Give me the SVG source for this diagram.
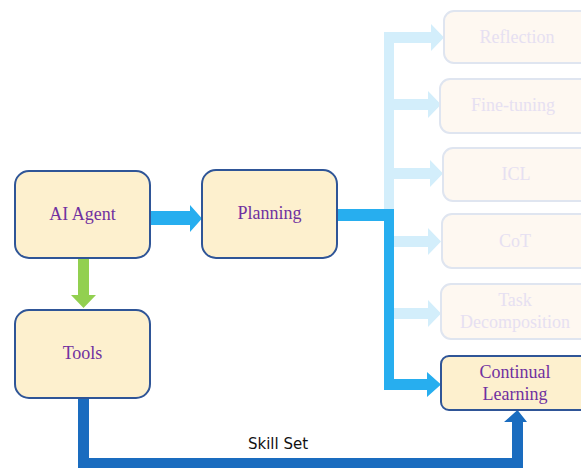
<svg xmlns="http://www.w3.org/2000/svg" width="581" height="468" viewBox="0 0 581 468">
<style>
.box{fill:#FDF0CE;stroke:#2F5597;stroke-width:2}
.fbox{fill:#FEF8F1;stroke:#DFE5F0;stroke-width:2}
.t{font-family:"Liberation Serif",serif;font-size:18px;fill:#7030A0;text-anchor:middle}
.ft{font-family:"Liberation Serif",serif;font-size:18px;fill:#E6E0F2;text-anchor:middle}
.light{fill:#D3EEFB}
.strong{fill:#27AEEF}
.dark{fill:#1A6CBF}
.green{fill:#92D050}
.lbl{font-family:"DejaVu Sans",sans-serif;font-size:15px;fill:#111;text-anchor:middle}
</style>
<rect width="581" height="468" fill="#fff"/>
<g id="connectors">
  <!-- light blue trunk and branches -->
  <rect class="light" x="384" y="32" width="10" height="287"/>
  <polygon class="light" points="394,32 431,32 431,24 444,37.5 431,51 431,43 394,43"/>
  <polygon class="light" points="394,99 428,99 428,91 441,104.5 428,118 428,110 394,110"/>
  <polygon class="light" points="394,168 430,168 430,160 443,173.5 430,187 430,179 394,179"/>
  <polygon class="light" points="394,236 428,236 428,228 441,241.5 428,255 428,247 394,247"/>
  <polygon class="light" points="394,308 428,308 428,300 441,313.5 428,327 428,319 394,319"/>
  <!-- strong blue planning -> continual learning -->
  <polygon class="strong" points="337,209 394,209 394,379 427,379 427,372 441,384.5 427,397 427,390 384,390 384,221 337,221"/>
  <!-- AI Agent -> Planning -->
  <polygon class="strong" points="150,211 190,211 190,205 202,218.5 190,232 190,225 150,225"/>
  <!-- AI Agent -> Tools -->
  <polygon class="green" points="78,258 89,258 89,295 96,295 83.5,308 71,295 78,295"/>
  <!-- Tools -> Continual Learning (Skill Set) -->
  <polygon class="dark" points="78,398 89,398 89,458 512,458 512,422 504,422 517.5,410 527,422 523,422 523,468 78,468"/>
  <text class="lbl" x="278" y="449">Skill Set</text>
</g>
<g id="ai-agent">
  <rect class="box" x="15" y="171" width="135" height="87" rx="14"/>
  <text class="t" x="82.5" y="220">AI Agent</text>
</g>
<g id="planning">
  <rect class="box" x="202" y="170" width="135" height="88" rx="14"/>
  <text class="t" x="269.5" y="219">Planning</text>
</g>
<g id="tools">
  <rect class="box" x="15" y="310" width="135" height="88" rx="14"/>
  <text class="t" x="82.5" y="359">Tools</text>
</g>
<g id="reflection">
  <rect class="fbox" x="444" y="11" width="150" height="52" rx="10"/>
  <text class="ft" x="517" y="43">Reflection</text>
</g>
<g id="fine-tuning">
  <rect class="fbox" x="440" y="79" width="154" height="54" rx="10"/>
  <text class="ft" x="513" y="111">Fine-tuning</text>
</g>
<g id="icl">
  <rect class="fbox" x="443" y="148" width="151" height="53" rx="10"/>
  <text class="ft" x="516" y="180">ICL</text>
</g>
<g id="cot">
  <rect class="fbox" x="442" y="214" width="152" height="54" rx="10"/>
  <text class="ft" x="515" y="247">CoT</text>
</g>
<g id="task-decomposition">
  <rect class="fbox" x="441" y="284" width="153" height="55" rx="10"/>
  <text class="ft" x="515" y="306">Task</text>
  <text class="ft" x="515" y="328">Decomposition</text>
</g>
<g id="continual-learning">
  <rect class="box" x="441" y="356" width="153" height="54" rx="8"/>
  <text class="t" x="515" y="378">Continual</text>
  <text class="t" x="515" y="400">Learning</text>
</g>
</svg>
